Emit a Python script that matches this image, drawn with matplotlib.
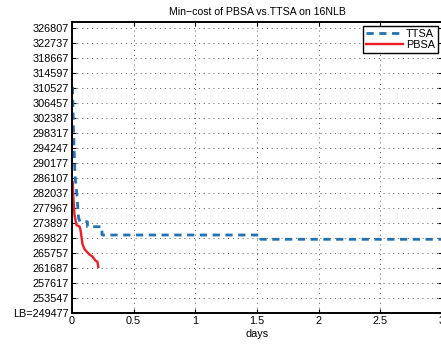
import numpy as np
import matplotlib
matplotlib.use('Agg')
import matplotlib.pyplot as plt

plt.rcParams['font.family'] = ['Liberation Sans', 'DejaVu Sans']

# cost values (days, cost)
ttsa_days = [0.004, 0.012, 0.024, 0.040, 0.053, 0.065, 0.125, 0.125, 0.243, 0.243, 1.530, 1.530, 3.000]
ttsa_cost = [310800, 299131, 286922, 281495, 275254, 274250, 274250, 272894, 272894, 270641, 270641, 269475, 269475]

pbsa_days = [0.006, 0.012, 0.020, 0.036, 0.061, 0.069, 0.077, 0.085, 0.101, 0.122, 0.142, 0.166, 0.186, 0.207, 0.213]
pbsa_cost = [285022, 280138, 276068, 273355, 272948, 271998, 270100, 268200, 266843, 266029, 265350, 264808, 263858, 263315, 261958]

lb = 249477
step = 4070
yticks = [lb + i * step for i in range(20)]
ylabels = ['LB=%d' % lb] + [str(v) for v in yticks[1:]]
xticks = [0, 0.5, 1, 1.5, 2, 2.5, 3]
xlabels = ['0', '0.5', '1', '1.5', '2', '2.5', '3']

fig = plt.figure(figsize=(4.41, 3.45), dpi=100)
ax = fig.add_axes([72 / 441, 32 / 345, 370 / 441, 291 / 345])

ax.plot(ttsa_days, ttsa_cost, color='#2272b4', lw=2.0, dashes=(2.6, 2.0), label='TTSA')
ax.plot(pbsa_days, pbsa_cost, color='#ee1d23', lw=1.7, label='PBSA')

ax.set_xlim(0, 3)
ax.set_ylim(lb, yticks[-1] + 1628)
ax.set_xticks(xticks)
ax.set_xticklabels(xlabels)
ax.set_yticks(yticks)
ax.set_yticklabels(ylabels)

ax.grid(True, color='0.35', lw=0.7, dashes=(1, 4))
ax.tick_params(direction='in', top=True, right=True, length=3, width=0.8,
               labelsize=7.8, pad=2.5)
for s in ax.spines.values():
    s.set_linewidth(1.4)

ax.set_xlabel('days', fontsize=7.8, labelpad=2)
ax.set_title('Min\u2212cost of PBSA vs.TTSA on 16NLB', fontsize=7.6, pad=5)

leg = ax.legend(loc='upper right', fontsize=7.8, handlelength=3.4, handletextpad=0.3,
                borderpad=0.25, labelspacing=0.1, borderaxespad=0.4, fancybox=False,
                framealpha=1)
leg.get_frame().set_edgecolor('black')
leg.get_frame().set_linewidth(1.0)

fig.savefig('out.png', dpi=100)
